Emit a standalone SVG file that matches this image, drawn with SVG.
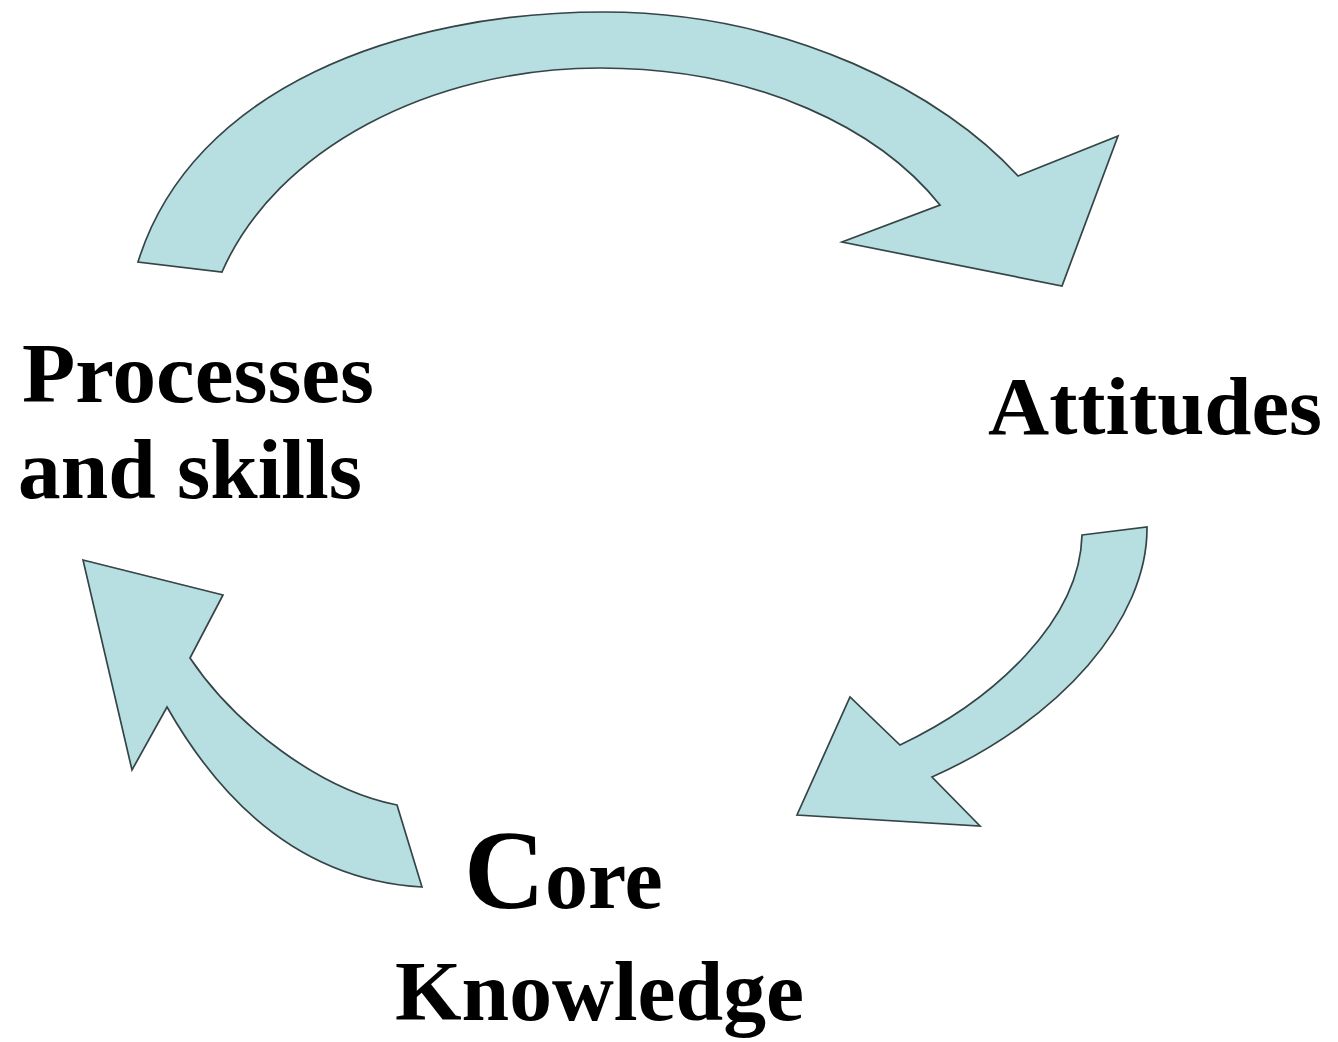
<svg xmlns="http://www.w3.org/2000/svg" width="1338" height="1042" viewBox="0 0 1338 1042">
  <style>
    .arrow { fill: #b7dfe1; stroke: #354446; stroke-width: 1.7; stroke-linejoin: miter; }
    .lbl { font-family: "Liberation Serif", "Times New Roman", serif; font-weight: bold; fill: #000; }
  </style>
  <rect width="1338" height="1042" fill="#ffffff"/>
  <g id="connectors">
    <path id="arrow-top" class="arrow" d="M138,262 C192,88 400,12 604,12 C790,12 945,95 1018,176 L1118,136 L1062,286 L842,242 L940,205 C880,130 760,68 600,68 C430,68 275,150 222,272 Z"/>
    <path id="arrow-right" class="arrow" d="M1082,535 L1147,527 C1148,620 1060,720 932,777 L980,826 L797,815 L850,697 L900,745 C995,700 1080,620 1082,535 Z"/>
    <path id="arrow-left" class="arrow" d="M83,560 L223,595 L190,658 C235,725 320,790 397,805 L422,887 C300,880 220,800 167,707 L132,770 Z"/>
  </g>
  <g id="node-processes">
    <text class="lbl" x="22" y="402" font-size="84" textLength="352" lengthAdjust="spacingAndGlyphs">Processes</text>
    <text class="lbl" x="18" y="498" font-size="84" textLength="344" lengthAdjust="spacingAndGlyphs">and skills</text>
  </g>
  <g id="node-attitudes">
    <text class="lbl" x="988" y="434" font-size="83" textLength="334" lengthAdjust="spacingAndGlyphs">Attitudes</text>
  </g>
  <g id="node-core">
    <text class="lbl" x="464" y="908"><tspan font-size="112">C</tspan><tspan font-size="86">ore</tspan></text>
    <text class="lbl" x="395" y="1020" font-size="84" textLength="409" lengthAdjust="spacingAndGlyphs">Knowledge</text>
  </g>
</svg>
